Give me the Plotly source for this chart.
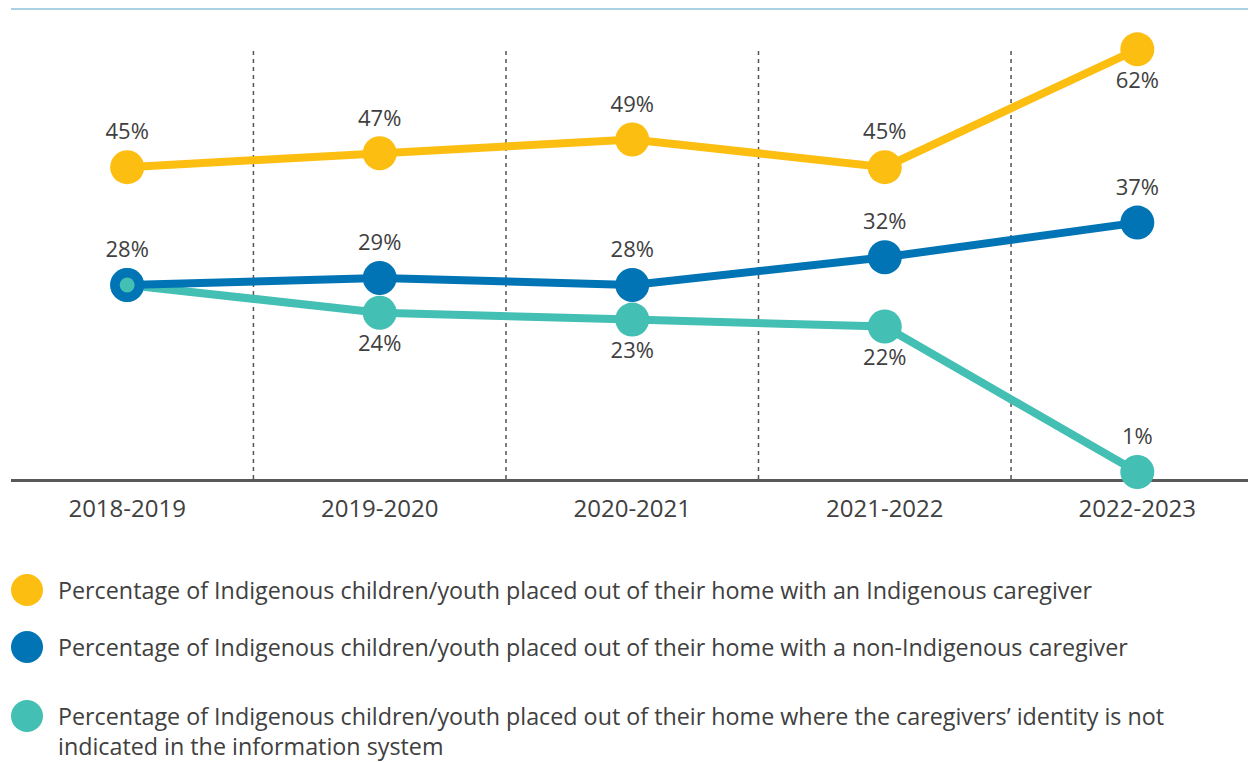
import plotly.graph_objects as go

# ---------------- data ----------------
years = ["2018-2019", "2019-2020", "2020-2021", "2021-2022", "2022-2023"]
indigenous_caregiver = [45, 47, 49, 45, 62]
non_indigenous_caregiver = [28, 29, 28, 32, 37]
identity_not_indicated = [28, 24, 23, 22, 1]

series_names = [
    "Percentage of Indigenous children/youth placed out of their home with an Indigenous caregiver",
    "Percentage of Indigenous children/youth placed out of their home with a non-Indigenous caregiver",
    "Percentage of Indigenous children/youth placed out of their home where the caregivers’ identity is not<br>indicated in the information system",
]

YELLOW = "#FDBE12"
BLUE = "#0074B4"
TEAL = "#43BFB3"
TEXT = "#404040"
FONT = "Open Sans"

# page has an 8px body margin; work in page pixels and convert
OFF = 8
W, H = 1256 - OFF, 762 - OFF
BASE_Y = 479          # page y of the baseline
LEFT_X = 11           # page x where the baseline starts
ML = LEFT_X - OFF
MR = 0
MT = 1
MB = 762 - BASE_Y
PW, PH = W - ML - MR, H - MT - MB


def px_x(px):
    return (px - OFF - ML) / PW


def px_y(py):
    return (H - MB - (py - OFF)) / PH


def pct(vals):
    return [f"{v}%" for v in vals]


fig = go.Figure()

teal_text = pct(identity_not_indicated)
teal_text[0] = ""
fig.add_trace(go.Scatter(
    x=years, y=identity_not_indicated, mode="lines+markers+text",
    name=series_names[2],
    line=dict(color=TEAL, width=8),
    marker=dict(color=TEAL, size=34),
    text=teal_text,
    textposition=["bottom center", "bottom center", "bottom center", "bottom center", "top center"],
    textfont=dict(family=FONT, size=22, color=TEXT),
    cliponaxis=False, showlegend=False,
))

fig.add_trace(go.Scatter(
    x=years, y=indigenous_caregiver, mode="lines+markers+text",
    name=series_names[0],
    line=dict(color=YELLOW, width=8),
    marker=dict(color=YELLOW, size=34),
    text=pct(indigenous_caregiver),
    textposition=["top center"] * 4 + ["bottom center"],
    textfont=dict(family=FONT, size=22, color=TEXT),
    cliponaxis=False, showlegend=False,
))

fig.add_trace(go.Scatter(
    x=years, y=non_indigenous_caregiver, mode="lines+markers+text",
    name=series_names[1],
    line=dict(color=BLUE, width=8),
    marker=dict(color=BLUE, size=34),
    text=pct(non_indigenous_caregiver),
    textposition="top center",
    textfont=dict(family=FONT, size=22, color=TEXT),
    cliponaxis=False, showlegend=False,
))

fig.add_trace(go.Scatter(
    x=years[:1], y=identity_not_indicated[:1], mode="markers",
    marker=dict(color=TEAL, size=15),
    cliponaxis=False, showlegend=False, hoverinfo="skip",
))

shapes = []
for i in range(len(years) - 1):
    shapes.append(dict(
        type="line", xref="x", yref="paper",
        x0=i + 0.5, x1=i + 0.5, y0=0, y1=px_y(50),
        line=dict(color="#555555", width=1.5, dash="4px,4px"),
        layer="below",
    ))
# top rule (as high as the page allows)
shapes.append(dict(
    type="line", xref="paper", yref="paper",
    x0=0, x1=px_x(1253), y0=1, y1=1,
    line=dict(color="#A9D3E2", width=2),
))

legend_rows = [(590, 590), (647, 647), (716, 731)]
legend_colors = [YELLOW, BLUE, TEAL]
annotations = []
for (cy, ty), col, name in zip(legend_rows, legend_colors, series_names):
    shapes.append(dict(
        type="circle", xref="paper", yref="paper",
        xsizemode="pixel", ysizemode="pixel",
        xanchor=px_x(27), yanchor=px_y(cy),
        x0=-16, x1=16, y0=-16, y1=16,
        fillcolor=col, line=dict(width=0),
    ))
    annotations.append(dict(
        xref="paper", yref="paper", x=px_x(56), y=px_y(ty),
        xanchor="left", yanchor="middle", align="left",
        text=name, showarrow=False,
        font=dict(family=FONT, size=23.3, color=TEXT),
    ))

fig.update_layout(
    width=W, height=H,
    margin=dict(l=ML, r=MR, t=MT, b=MB, pad=0),
    paper_bgcolor="white", plot_bgcolor="white",
    shapes=shapes, annotations=annotations,
    showlegend=False,
    xaxis=dict(
        type="category", range=[-0.46, 4.47],
        showgrid=False, zeroline=False,
        showline=True, linecolor="#595959", linewidth=2.5,
        ticks="outside", ticklen=6, tickcolor="rgba(0,0,0,0)",
        tickfont=dict(family=FONT, size=24, color=TEXT),
        layer="below traces",
    ),
    yaxis=dict(
        range=[0, (BASE_Y - OFF - MT) / 6.93],
        showgrid=False, zeroline=False, showticklabels=False,
        showline=False, ticks="",
    ),
)

fig.write_html("out.html")
